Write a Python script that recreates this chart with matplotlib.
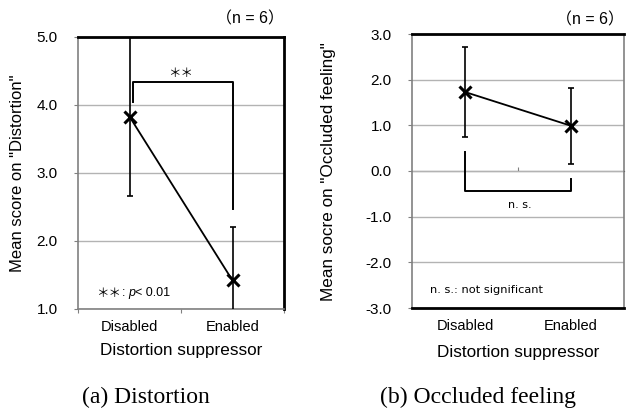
import matplotlib
matplotlib.use("Agg")
import matplotlib.pyplot as plt
from matplotlib.ticker import FixedLocator, NullFormatter, FixedFormatter

plt.rcParams['font.family'] = ['Liberation Sans', 'Noto Sans CJK JP', 'DejaVu Sans']

# ---- data ----
categories = ["Disabled", "Enabled"]
cat_pos = [0.5, 1.5]

dist_mean = [3.83, 1.42]
dist_sd = [1.17, 0.78]
dist_yticks = [1.0, 2.0, 3.0, 4.0, 5.0]

occl_mean = [1.73, 0.99]
occl_sd = [0.98, 0.83]
occl_yticks = [-3.0, -2.0, -1.0, 0.0, 1.0, 2.0, 3.0]

# significance brackets (x, y polylines)
dist_bracket_x = [0.53, 0.53, 1.5, 1.5]
dist_bracket_y = [4.04, 4.34, 4.34, 2.47]
occl_bracket_x = [0.5, 0.5, 1.5, 1.5]
occl_bracket_y = [0.42, -0.44, -0.44, -0.17]

GRID = '#b3b3b3'
AX = '#808080'

fig = plt.figure(figsize=(6.26, 4.08), dpi=100)

def style_axes(ax, ymin, ymax, yticks, mean, sd):
    ax.set_xlim(0, 2)
    ax.set_ylim(ymin, ymax)
    ax.yaxis.set_major_locator(FixedLocator(yticks))
    ax.set_yticklabels([f"{v:.1f}" for v in yticks], fontsize=11)
    ax.xaxis.set_major_locator(FixedLocator([0, 1, 2]))
    ax.xaxis.set_major_formatter(NullFormatter())
    ax.xaxis.set_minor_locator(FixedLocator(cat_pos))
    ax.xaxis.set_minor_formatter(FixedFormatter(categories))
    ax.tick_params(axis='x', which='minor', length=0, pad=8, labelsize=10.5)
    ax.tick_params(axis='x', which='major', length=3, color=AX, direction='out')
    ax.tick_params(axis='y', which='major', length=3, color=AX, direction='out', pad=11.5)
    ax.grid(axis='y', color=GRID, linewidth=1.0)
    ax.set_axisbelow(True)
    ax.errorbar(cat_pos, mean, yerr=sd, fmt='none', ecolor='black', elinewidth=1.2,
                capsize=2.5, capthick=1.2, zorder=3)
    ax.plot(cat_pos, mean, color='black', linewidth=1.3, marker='x', markersize=9,
            markeredgewidth=2.2, zorder=4)

# ---- left: Distortion ----
ax1 = fig.add_axes([78/626, 1-309/408, 206/626, 272/408])
style_axes(ax1, 1.0, 5.0, dist_yticks, dist_mean, dist_sd)
for s in ['top', 'right']:
    ax1.spines[s].set_color('black'); ax1.spines[s].set_linewidth(2.0)
for s in ['left', 'bottom']:
    ax1.spines[s].set_color(AX); ax1.spines[s].set_linewidth(1.2)
ax1.plot(dist_bracket_x, dist_bracket_y, color='black', linewidth=1.4, zorder=2, clip_on=False)
ax1.text(1.0, 4.47, "＊＊", ha='center', va='center', fontsize=9,
         family=['Noto Sans CJK JP', 'DejaVu Sans'])
t1 = ax1.text(0.18, 1.23, "＊＊", ha='left', va='center', fontsize=9,
              family=['Noto Sans CJK JP', 'DejaVu Sans'])
t2 = ax1.annotate(": ", xy=(1, 0.5), xycoords=t1, ha='left', va='center', fontsize=9)
t3 = ax1.annotate("p", xy=(1, 0.5), xycoords=t2, ha='left', va='center', fontsize=9,
                  style='italic')
ax1.annotate("< 0.01", xy=(1, 0.5), xycoords=t3, ha='left', va='center', fontsize=9)
ax1.text(1.0, 1.04, "（n = 6）", transform=ax1.transAxes, ha='right', va='bottom', fontsize=11.5)

# ---- right: Occluded feeling ----
ax2 = fig.add_axes([412/626, 1-308/408, 212/626, 274/408])
style_axes(ax2, -3.0, 3.0, occl_yticks, occl_mean, occl_sd)
for s in ['top', 'bottom']:
    ax2.spines[s].set_color('black'); ax2.spines[s].set_linewidth(2.0)
for s in ['left', 'right']:
    ax2.spines[s].set_color(AX); ax2.spines[s].set_linewidth(1.2)
ax2.tick_params(axis='x', which='major', length=0)
sec = ax2.secondary_xaxis(0.5)
sec.set_xticks([1])
sec.set_xticklabels([])
sec.tick_params(axis='x', length=3, color=AX, direction='out')
sec.spines['bottom'].set_color(GRID)
sec.spines['bottom'].set_linewidth(1.0)
ax2.plot(occl_bracket_x, occl_bracket_y, color='black', linewidth=1.4, zorder=2)
ax2.text(1.02, -0.74, "n. s.", ha='center', va='center', fontsize=8,
         family=['DejaVu Sans'])
ax2.text(0.17, -2.6, "n. s.: not significant", ha='left', va='center', fontsize=8.2,
         family=['DejaVu Sans'])
ax2.text(1.0, 1.025, "（n = 6）", transform=ax2.transAxes, ha='right', va='bottom', fontsize=11.5)

# axis labels
fig.text(18/626, 1-173/408, 'Mean score on "Distortion"', rotation=90, ha='center', va='center', fontsize=12)
fig.text(328/626, 1-172/408, 'Mean socre on "Occluded feeling"', rotation=90, ha='center', va='center', fontsize=12.3)
fig.text(181/626, 1-350/408, 'Distortion suppressor', ha='center', va='center', fontsize=12.3)
fig.text(518/626, 1-352/408, 'Distortion suppressor', ha='center', va='center', fontsize=12.3)

# captions
fig.text(146/626, 1-397/408, '(a) Distortion', ha='center', va='center', fontsize=17,
         family=['Liberation Serif'])
fig.text(478/626, 1-397/408, '(b) Occluded feeling', ha='center', va='center', fontsize=17,
         family=['Liberation Serif'])

fig.savefig("out.png", dpi=100)
